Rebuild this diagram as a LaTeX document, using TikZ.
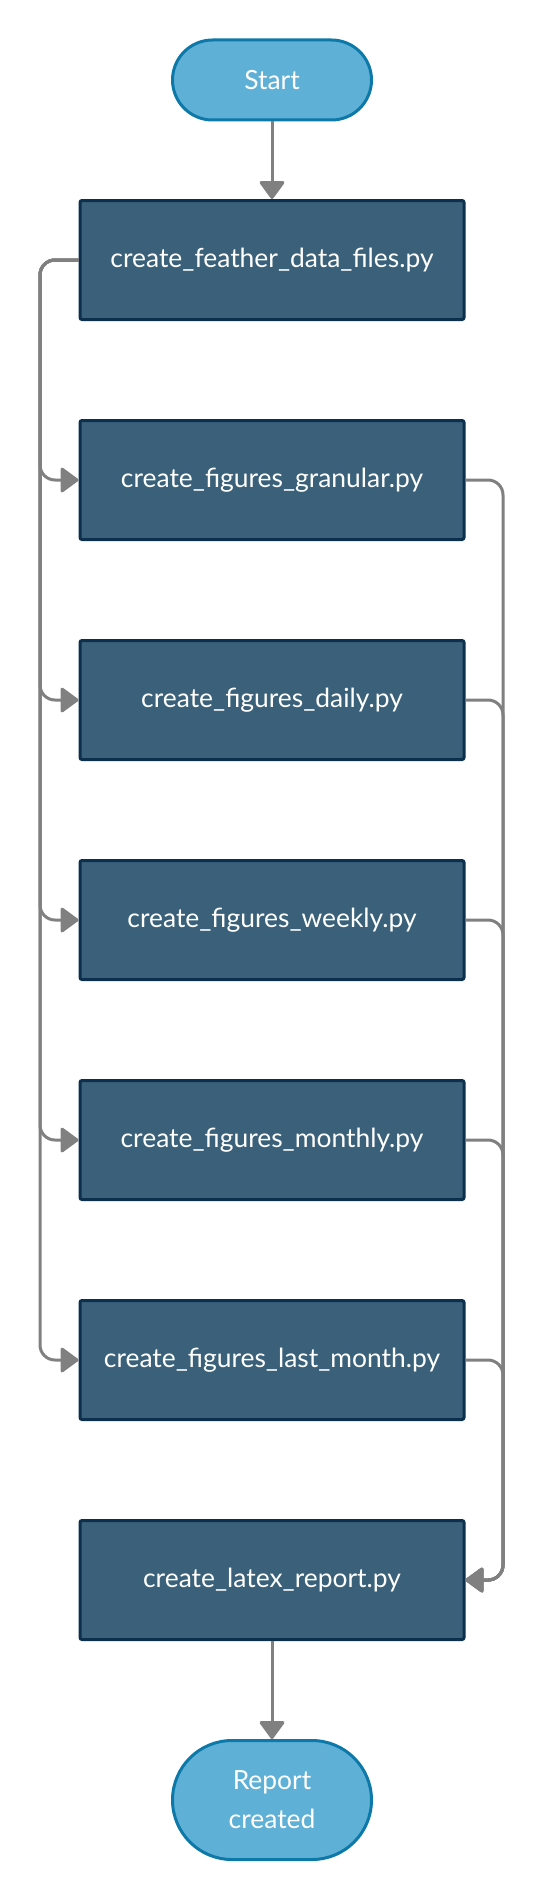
\documentclass[tikz,border=0pt]{standalone}
\usepackage{fontspec}
\setmainfont{Lato}
\usetikzlibrary{arrows.meta}

\definecolor{termfill}{HTML}{5FB0D6}
\definecolor{termline}{HTML}{0D79A9}
\definecolor{scriptfill}{HTML}{3A6179}
\definecolor{scriptline}{HTML}{0B2F4C}
\definecolor{linkgray}{HTML}{808080}

\begin{document}
\begin{tikzpicture}[x=0.5pt,y=-0.5pt,
    term/.style={draw=termline, fill=termfill, line width=1.5pt,
      minimum width=99.5pt, minimum height=#1, rounded corners=#1/2,
      text=white, align=center, font=\fontsize{13.2}{19.5}\selectfont},
    script/.style={draw=scriptline, fill=scriptfill, line width=1.5pt,
      rounded corners=1pt, minimum width=192pt, minimum height=59.5pt,
      text=white, font=\fontsize{13.2}{16}\selectfont},
    link/.style={draw=linkgray, line width=1.5pt, rounded corners=7.5pt,
      -{Triangle[length=9.5pt,width=13.5pt,round]}}]
  % Page size
  \useasboundingbox (0,0) rectangle (544,1900);

  % Start and end
  \node[term=40pt] (start) at (272,80) {Start};
  \node[term=59.5pt] (done) at (272,1800) {Report\\created};

  % Scripts
  \node[script] (feather) at (272,260) {create\_feather\_data\_files.py};
  \node[script] (granular) at (272,480) {create\_figures\_granular.py};
  \node[script] (daily) at (272,700) {create\_figures\_daily.py};
  \node[script] (weekly) at (272,920) {create\_figures\_weekly.py};
  \node[script] (monthly) at (272,1140) {create\_figures\_monthly.py};
  \node[script] (lastmonth) at (272,1360) {create\_figures\_last\_month.py};
  \node[script] (report) at (272,1580) {create\_latex\_report.py};

  % Bus lines left and right
  \coordinate (lbus) at (40,260);
  \coordinate (rbus) at (503,1580);

  % Connectors
  \draw[link] (start) -- (feather);
  \foreach \n in {granular,daily,weekly,monthly,lastmonth} {
    \draw[link] (feather.west) -- (lbus) |- (\n.west);
    \draw[link] (\n.east) -| (rbus) -- (report.east);
  }
  \draw[link] (report) -- (done);
\end{tikzpicture}
\end{document}
